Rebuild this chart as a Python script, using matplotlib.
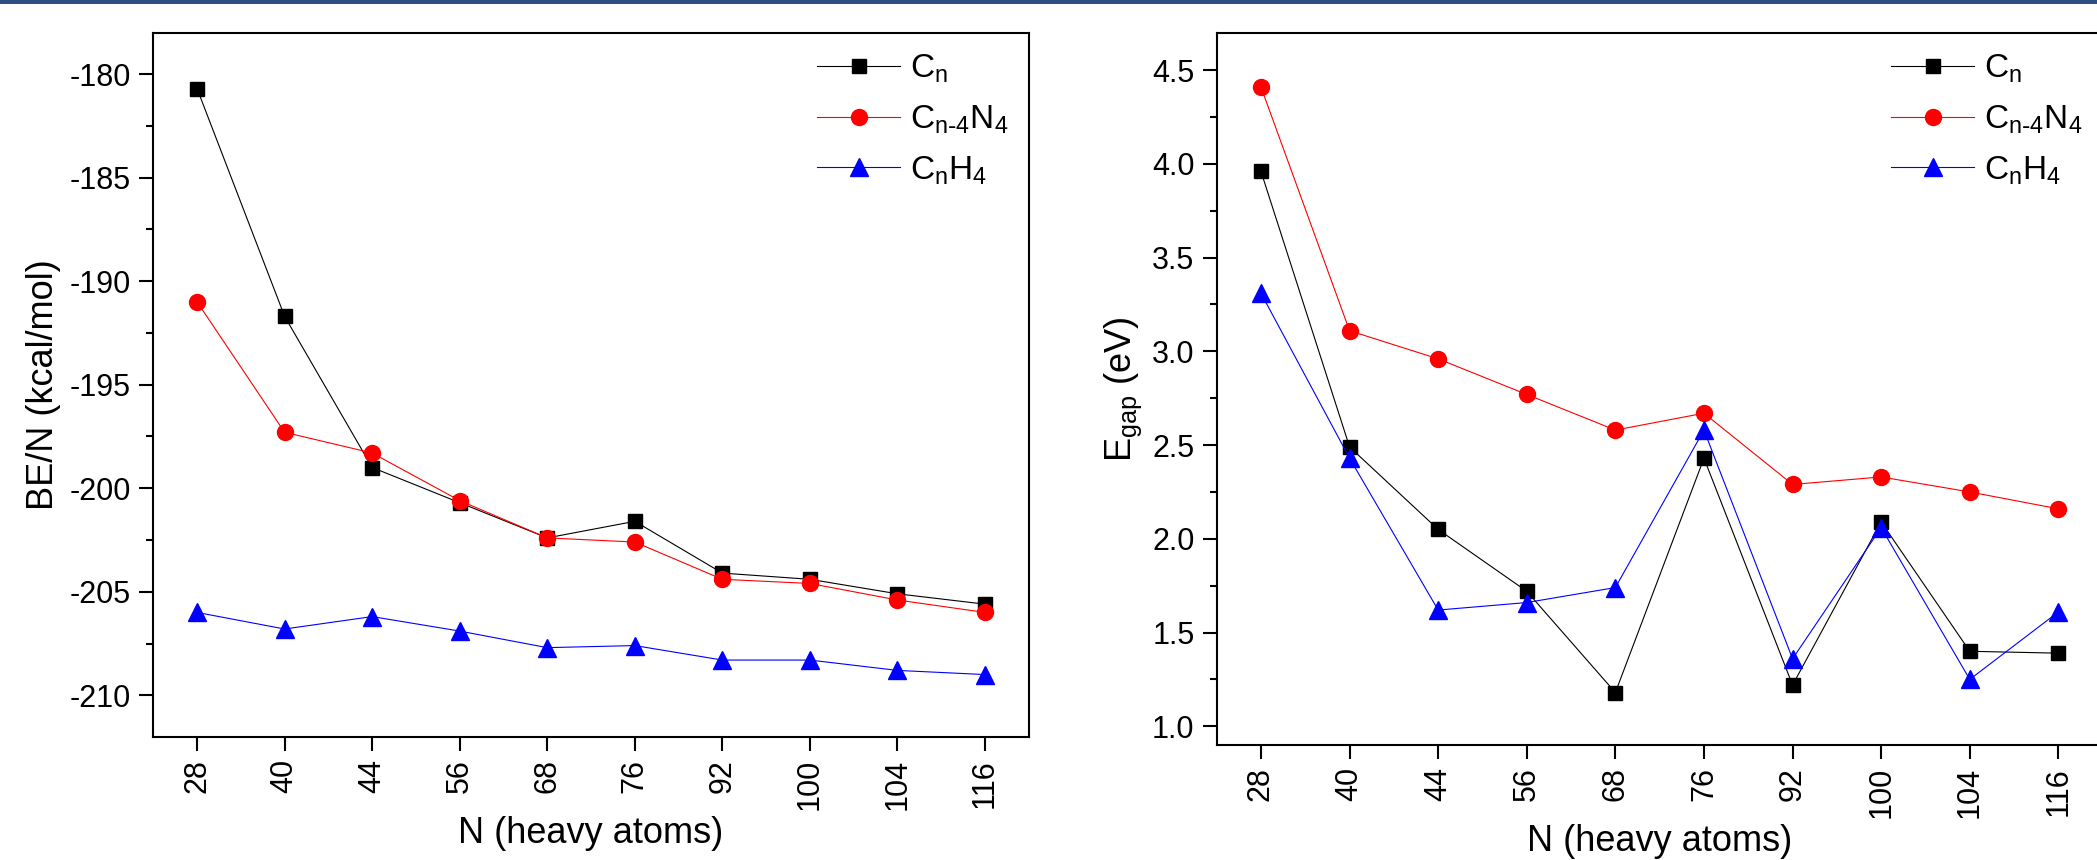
import numpy as np
import matplotlib
matplotlib.use("Agg")
import matplotlib.pyplot as plt
from matplotlib.ticker import MultipleLocator, FormatStrFormatter
from matplotlib.patches import Rectangle

plt.rcParams['font.family'] = ['Liberation Sans', 'DejaVu Sans']
plt.rcParams['mathtext.default'] = 'regular'
plt.rcParams['axes.unicode_minus'] = False

# cluster sizes (categorical x axis)
sizes = ['28', '40', '44', '56', '68', '76', '92', '100', '104', '116']

# binding energy per atom (kcal/mol)
be_cn = [-180.7, -191.7, -199.0, -200.7, -202.4, -201.6, -204.1, -204.4, -205.1, -205.6]
be_cn4n4 = [-191.0, -197.3, -198.3, -200.6, -202.4, -202.6, -204.4, -204.6, -205.4, -206.0]
be_cnh4 = [-206.0, -206.8, -206.2, -206.9, -207.7, -207.6, -208.3, -208.3, -208.8, -209.0]

# HOMO-LUMO gap (eV)
gap_cn = [3.96, 2.49, 2.05, 1.72, 1.18, 2.43, 1.22, 2.09, 1.40, 1.39]
gap_cn4n4 = [4.41, 3.11, 2.96, 2.77, 2.58, 2.67, 2.29, 2.33, 2.25, 2.16]
gap_cnh4 = [3.31, 2.43, 1.62, 1.66, 1.74, 2.58, 1.36, 2.06, 1.25, 1.61]

labels = ['C$_n$', r'C$_{n\text{-}4}$N$_4$', 'C$_n$H$_4$']

fig = plt.figure(figsize=(20.97, 8.6), dpi=100)

# thin banner at the very top
fig.add_artist(Rectangle((0, 0.995), 1, 0.005, transform=fig.transFigure,
                         color='#2b4f81', lw=0))

ax1 = fig.add_axes([0.0731, 0.1434, 0.4175, 0.8186])
ax2 = fig.add_axes([0.5802, 0.1337, 0.4225, 0.8283])

x = np.arange(len(sizes))

def style(ax, series, lo, hi, major, minor):
    ax.plot(x, series[0], color='black', lw=0.8, marker='s', ms=10.5, mfc='black', mec='black', label=labels[0])
    ax.plot(x, series[1], color='red', lw=0.8, marker='o', ms=11.5, mfc='red', mec='red', label=labels[1])
    ax.plot(x, series[2], color='blue', lw=0.8, marker='^', ms=13, mfc='blue', mec='blue', label=labels[2])
    ax.set_xlim(-0.5, 9.5)
    ax.set_ylim(lo, hi)
    ax.set_xticks(x)
    ax.set_xticklabels(sizes, rotation=90)
    ax.yaxis.set_major_locator(MultipleLocator(major))
    ax.yaxis.set_minor_locator(MultipleLocator(minor))
    ax.tick_params(axis='both', which='major', direction='out', length=10, width=1.5,
                   labelsize=22, pad=6)
    ax.tick_params(axis='y', which='minor', direction='out', length=5, width=1.5)
    ax.tick_params(axis='x', which='minor', bottom=False)
    for s in ax.spines.values():
        s.set_linewidth(1.5)
    ax.set_xlabel('N (heavy atoms)', fontsize=26, labelpad=4)
    ax.legend(loc='upper right', frameon=False, fontsize=24, handlelength=2.5,
              labelspacing=0.55, handletextpad=0.3, borderaxespad=0.2)

style(ax1, [be_cn, be_cn4n4, be_cnh4], -212, -178, 5, 2.5)
ax1.set_ylabel('BE/N (kcal/mol)', fontsize=26, labelpad=6)

style(ax2, [gap_cn, gap_cn4n4, gap_cnh4], 0.9, 4.7, 0.5, 0.25)
ax2.set_ylabel('E$_{gap}$ (eV)', fontsize=26, labelpad=6)
ax2.yaxis.set_major_formatter(FormatStrFormatter('%.1f'))

fig.savefig('out.png', dpi=100)
